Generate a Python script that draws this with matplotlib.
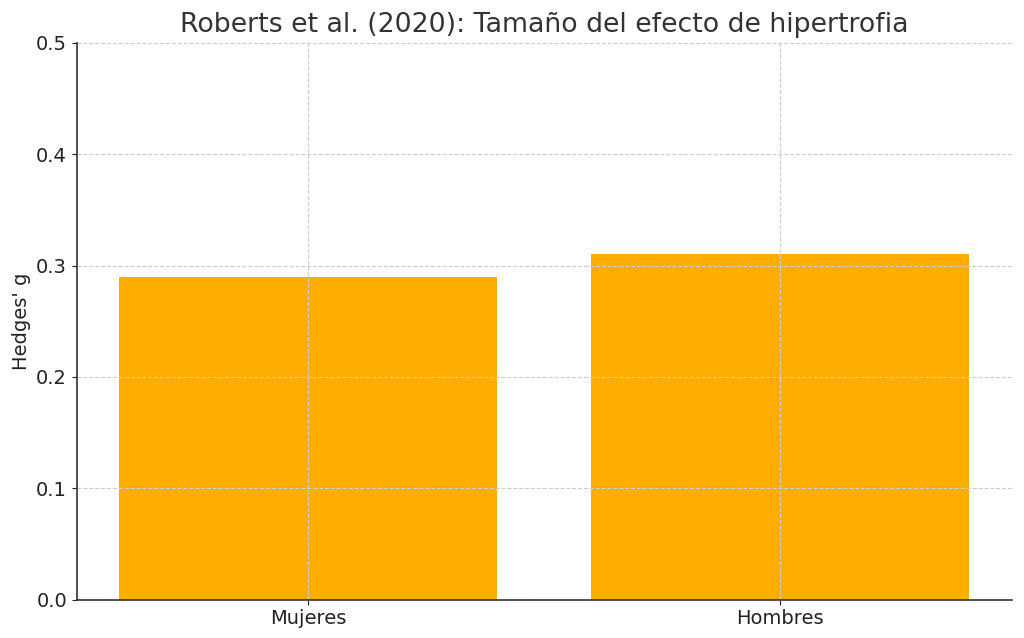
import matplotlib
matplotlib.use("Agg")
from matplotlib import pyplot as plt

groups = ["Mujeres", "Hombres"]
hedges_g = [0.29, 0.31]
y_ticks = [0.0, 0.1, 0.2, 0.3, 0.4, 0.5]

fig = plt.figure(figsize=(10.24, 6.38), dpi=100)
ax = fig.add_subplot(111)
fig.subplots_adjust(left=0.075, right=0.988, top=0.933, bottom=0.06)

ax.bar(groups, hedges_g, color="#FFAE00", width=0.8)
ax.set_ylim(0, 0.5)
ax.set_yticks(y_ticks)
ax.set_title("Roberts et al. (2020): Tamaño del efecto de hipertrofia",
             fontsize=19.3, color="#333333", pad=8)
ax.set_ylabel("Hedges' g", fontsize=14, color="#222222")
ax.tick_params(labelsize=14, colors="#222222")
ax.grid(True, linestyle="--", color="#cccccc", linewidth=0.8)
for side in ["top", "right"]:
    ax.spines[side].set_visible(False)
for side in ["left", "bottom"]:
    ax.spines[side].set_color("#333333")
    ax.spines[side].set_linewidth(1.2)

plt.savefig("out.png", dpi=100)
